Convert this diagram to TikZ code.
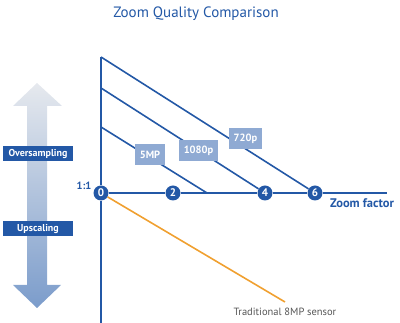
\documentclass[tikz,border=0pt]{standalone}
\usepackage{fontspec}
\setmainfont{PT Sans}
\definecolor{nokblue}{HTML}{2358A6}
\definecolor{boxblue}{HTML}{8FAAD3}
\definecolor{arrtop}{HTML}{E6E9EE}
\definecolor{arrbot}{HTML}{7B9CCB}
\definecolor{sensorc}{HTML}{F0A030}
\definecolor{greytxt}{HTML}{555555}
\tikzset{
  tick/.style={circle, fill=nokblue, text=white, inner sep=0pt, minimum size=15pt,
    font=\bfseries\fontsize{11}{11}\selectfont},
  res/.style={fill=boxblue, text=white, font=\bfseries\fontsize{10.5}{10.5}\selectfont,
    minimum height=21pt, inner xsep=5pt},
  side/.style={fill=nokblue, text=white, font=\bfseries\fontsize{10}{10}\selectfont,
    minimum width=70pt, minimum height=15pt, inner sep=0pt},
  resline/.style={nokblue, line width=1.6pt}
}
\begin{document}
\begin{tikzpicture}[x=1pt,y=-1pt]
    \useasboundingbox (0,0) rectangle (400,323);
    \node[text=nokblue, font=\fontsize{15}{15}\selectfont] (title) at (196,14) {Zoom Quality Comparison};

    % quality arrow
    \shade[top color=arrtop, bottom color=arrbot] (37,83) -- (62,106) -- (47,106) -- (47,285) -- (61,285)
        -- (37,308) -- (13,285) -- (27,285) -- (27,106) -- (13,106) -- cycle;
    \node[side] (over) at (38,154) {Oversampling};
    \node[side] (up) at (38,229) {Upscaling};

    % ticks on the zoom axis
    \node[tick] (n0) at (101,193) {0};
    \node[tick] (n2) at (173,193) {2};
    \node[tick] (n4) at (265,193) {4};
    \node[tick] (n6) at (315,193) {6};
    \coordinate (vtop) at (101,57);
    \coordinate (vbot) at (101,323);
    \coordinate (xend) at (387,193);
    \coordinate (t1080) at (101,88);
    \coordinate (t5mp) at (101,127);
    \coordinate (e5mp) at (207,193);
    \coordinate (s8end) at (285,302);

    \draw[resline] (vtop) -- (n0) -- (vbot);
    \draw[resline] (n0) -- (n2) -- (n4) -- (n6) -- (xend);
    \draw[resline] (vtop) -- (n6);
    \draw[resline] (t1080) -- (n4);
    \draw[resline] (t5mp) -- (e5mp);
    \draw[sensorc, line width=1.6pt] (n0) -- (s8end);

    \node[res] (l5mp) at (150,155) {5MP};
    \node[res] (l1080) at (198.5,151) {1080p};
    \node[res] (l720) at (245.5,139) {720p};

    \node[text=nokblue, font=\bfseries\fontsize{10.5}{10.5}\selectfont] (one) at (84,186) {1:1};
    \node[text=nokblue, font=\bfseries\fontsize{12.5}{12.5}\selectfont] (zf) at (362,203) {Zoom factor};
    \node[text=greytxt, font=\fontsize{10.5}{10.5}\selectfont] (trad) at (285,312) {Traditional 8MP sensor};
\end{tikzpicture}
\end{document}
